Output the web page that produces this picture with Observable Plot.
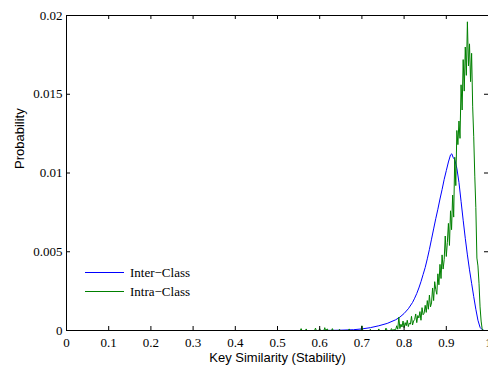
<!DOCTYPE html>
<html>
<head>
<meta charset="utf-8">
<script src="https://cdn.jsdelivr.net/npm/d3@7"></script>
<script src="https://cdn.jsdelivr.net/npm/@observablehq/plot@0.6"></script>
<style>
  html, body { margin: 0; padding: 0; background: #fff; overflow: hidden; }
  #wrap { position: relative; width: 488px; height: 371px; }
  #legend { position: absolute; left: 85px; top: 263px; font-family: "Liberation Serif", "Times New Roman", Times, "DejaVu Serif", serif; font-size: 13px; color: #000; }
  #legend .row { display: flex; align-items: center; height: 19px; }
  #legend .sw { width: 39px; height: 0; border-top: 1px solid; margin-right: 6px; }
</style>
</head>
<body>
<div id="wrap"></div>
<script>
// ---- Data ----
const xTicks = [0, 0.1, 0.2, 0.3, 0.4, 0.5, 0.6, 0.7, 0.8, 0.9, 1];
const yTicks = [0, 0.005, 0.01, 0.015, 0.02];
const seriesNames = ["Inter\u2212Class", "Intra\u2212Class"];
const seriesColors = ["#0000ff", "#008000"];

// Inter-Class (blue)
const interSim = [0, 0.60, 0.65, 0.68, 0.70, 0.72, 0.74, 0.76, 0.78, 0.79, 0.80, 0.81, 0.82, 0.825, 0.83,
  0.835, 0.84, 0.845, 0.85, 0.855, 0.86, 0.865, 0.87, 0.875, 0.88, 0.885, 0.89, 0.895, 0.90, 0.905,
  0.91, 0.913, 0.916, 0.92, 0.925, 0.93, 0.935, 0.94, 0.945, 0.95, 0.955, 0.96, 0.965, 0.97, 0.975,
  0.98, 0.985, 0.99, 1.0];
const interProb = [0, 0, 0.00002, 0.00005, 0.00010, 0.00018, 0.00030, 0.00045, 0.00068, 0.00085, 0.00108, 0.00138, 0.00178, 0.00205, 0.00235,
  0.00270, 0.00310, 0.00355, 0.00400, 0.00455, 0.00515, 0.00580, 0.00645, 0.00710, 0.00770, 0.00835, 0.00895, 0.00960, 0.01015, 0.01070,
  0.01115, 0.01122, 0.01100, 0.01085, 0.01030, 0.00940, 0.00820, 0.00700, 0.00585, 0.00480, 0.00385, 0.00300, 0.00215, 0.00135, 0.00065,
  0.00020, 0.00005, 0, 0];

// Intra-Class (green)
const intraSim = [0,
  0.554, 0.556, 0.558, 0.566, 0.568, 0.570, 0.588, 0.590, 0.592, 0.598, 0.600, 0.602,
  0.610, 0.612, 0.614, 0.618, 0.620, 0.628, 0.630, 0.632, 0.645, 0.647, 0.649,
  0.668, 0.670, 0.672, 0.698, 0.700, 0.702, 0.718, 0.720, 0.722, 0.738, 0.740, 0.742,
  0.755, 0.757, 0.760, 0.768, 0.770, 0.773, 0.775,
  0.7800, 0.7825, 0.7850, 0.7875, 0.7900, 0.7925, 0.7950, 0.7975,
  0.8000, 0.8025, 0.8050, 0.8075, 0.8100, 0.8125, 0.8150, 0.8175,
  0.8200, 0.8225, 0.8250, 0.8275, 0.8300, 0.8325, 0.8350, 0.8375,
  0.8400, 0.8425, 0.8450, 0.8475, 0.8500, 0.8525, 0.8550, 0.8575,
  0.8600, 0.8625, 0.8650, 0.8675, 0.8700, 0.8725, 0.8750, 0.8775,
  0.8800, 0.8825, 0.8850, 0.8875, 0.8900, 0.8925, 0.8950, 0.8975,
  0.9000, 0.9025, 0.9050, 0.9075, 0.9100, 0.9125, 0.9150, 0.9175,
  0.9200, 0.9225, 0.9250, 0.9275, 0.9300, 0.9325, 0.9350, 0.9375,
  0.9400, 0.9425, 0.9450, 0.9475, 0.9500, 0.9525, 0.9550, 0.9575,
  0.9600, 0.9625, 0.9650, 0.9675, 0.9700, 0.9725, 0.9750, 0.9775,
  0.9800, 0.9825, 0.9850, 0.9875, 0.9900, 1.0];
const intraProb = [0,
  0, 0.00012, 0, 0, 0.00010, 0, 0, 0.00015, 0, 0, 0.00012, 0,
  0, 0.00018, 0, 0.00010, 0, 0, 0.00012, 0, 0, 0.00008, 0,
  0, 0.00010, 0, 0, 0.00030, 0, 0, 0.00008, 0, 0, 0.00010, 0,
  0, 0.00015, 0, 0, 0.00012, 0, 0.00005,
  0.00005, 0.00030, 0.00008, 0.00085, 0.00012, 0.00040, 0.00022, 0.00060,
  0.00018, 0.00050, 0.00030, 0.00065, 0.00025, 0.00048, 0.00040, 0.00090,
  0.00035, 0.00060, 0.00070, 0.00105, 0.00050, 0.00095, 0.00080, 0.00120,
  0.00065, 0.00145, 0.00100, 0.00110, 0.00160, 0.00115, 0.00190, 0.00135,
  0.00225, 0.00150, 0.00175, 0.00270, 0.00190, 0.00310, 0.00260, 0.00230,
  0.00360, 0.00290, 0.00420, 0.00330, 0.00480, 0.00390, 0.00450, 0.00600,
  0.00470, 0.00560, 0.00680, 0.00540, 0.00760, 0.00640, 0.00860, 0.00720,
  0.01100, 0.00920, 0.01270, 0.01180, 0.01330, 0.01220, 0.01560, 0.01400,
  0.01720, 0.01520, 0.01800, 0.01620, 0.01960, 0.01680, 0.01820, 0.01580,
  0.01760, 0.01420, 0.01230, 0.00980, 0.00780, 0.00460, 0.00410, 0.00300,
  0.00150, 0.00060, 0.00010, 0, 0, 0];

const interData = interSim.map((s, i) => ({s, p: interProb[i]}));
const intraData = intraSim.map((s, i) => ({s, p: intraProb[i]}));

// inward tick lengths expressed in data units (4px)
const tickLenY = 0.02 * 4 / 315;
const tickLenX = 1 * 4 / 422;

const serif = "'Liberation Serif', 'Times New Roman', Times, 'DejaVu Serif', serif";
const sans = "'Liberation Sans', Arial, Helvetica, sans-serif";

const chart = Plot.plot({
  width: 488,
  height: 371,
  marginLeft: 66,
  marginRight: 0,
  marginTop: 15,
  marginBottom: 41,
  x: {domain: [0, 1]},
  y: {domain: [0, 0.02]},
  style: {background: "#fff", color: "#000", fontFamily: serif, fontSize: "13px"},
  marks: [
    Plot.line(interData, {x: "s", y: "p", stroke: seriesColors[0], strokeWidth: 1}),
    Plot.line(intraData, {x: "s", y: "p", stroke: seriesColors[1], strokeWidth: 1}),
    Plot.frame({stroke: "#000", strokeWidth: 1}),
    Plot.ruleX(xTicks, {x: d => d, y1: 0, y2: tickLenY, stroke: "#000"}),
    Plot.ruleX(xTicks, {x: d => d, y1: 0.02, y2: 0.02 - tickLenY, stroke: "#000"}),
    Plot.ruleY(yTicks, {y: d => d, x1: 0, x2: tickLenX, stroke: "#000"}),
    Plot.ruleY(yTicks, {y: d => d, x1: 1, x2: 1 - tickLenX, stroke: "#000"}),
    Plot.axisX({ticks: xTicks, tickSize: 0, tickPadding: 7, tickFormat: d => String(d), label: null, fontFamily: serif, fontSize: 13, fill: "#000"}),
    Plot.axisY({ticks: yTicks, tickSize: 0, tickPadding: 4, tickFormat: d => String(d), label: null, fontFamily: serif, fontSize: 13, fill: "#000"}),
    Plot.text(["Key Similarity (Stability)"], {frameAnchor: "bottom", dy: 31, fontFamily: sans, fontSize: 13, fill: "#000"}),
    Plot.text(["Probability"], {frameAnchor: "left", dx: -47, dy: -4, rotate: -90, fontFamily: sans, fontSize: 13, fill: "#000"})
  ]
});

const wrap = document.getElementById("wrap");
wrap.appendChild(chart);

const legend = document.createElement("div");
legend.id = "legend";
seriesNames.forEach((name, i) => {
  const row = document.createElement("div");
  row.className = "row";
  const sw = document.createElement("span");
  sw.className = "sw";
  sw.style.borderTopColor = seriesColors[i];
  const t = document.createElement("span");
  t.textContent = name;
  row.appendChild(sw);
  row.appendChild(t);
  legend.appendChild(row);
});
wrap.appendChild(legend);
</script>
</body>
</html>
